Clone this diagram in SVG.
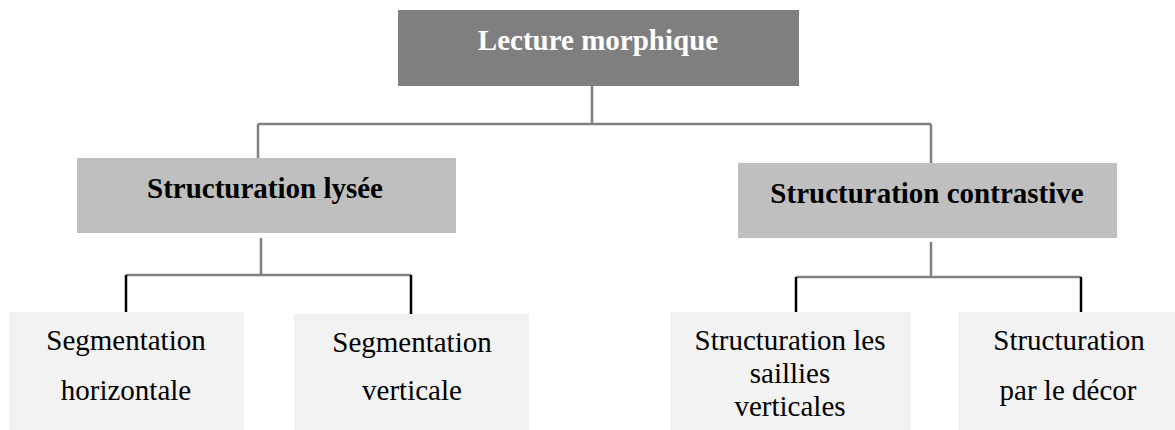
<svg xmlns="http://www.w3.org/2000/svg" width="1175" height="430" viewBox="0 0 1175 430">
  <style>
    .bg { fill: #ffffff; }
    .root { fill: #7f7f7f; }
    .branch { fill: #bfbfbf; }
    .leaf { fill: #f2f2f2; }
    text { font-family: "Liberation Serif", "Times New Roman", serif; font-size: 29px; text-anchor: middle; }
    .title { font-weight: bold; fill: #ffffff; }
    .head { font-weight: bold; fill: #000000; }
    .item { fill: #000000; }
    .link { stroke: #808080; stroke-width: 2.5; fill: none; }
    .drop { stroke: #000000; stroke-width: 2.5; fill: none; }
  </style>
  <rect class="bg" x="0" y="0" width="1175" height="430"/>

  <!-- connectors -->
  <g id="connectors">
    <!-- root to the two branches -->
    <path class="link" d="M592 86 V124 M258 124 H931 M258 124 V158 M931 124 V163"/>
    <!-- left branch to its leaves -->
    <path class="link" d="M261 238 V275 M126 275 H411"/>
    <path class="drop" d="M126 275 V313 M411 275 V314"/>
    <!-- right branch to its leaves -->
    <path class="link" d="M931 242 V277 M796 277 H1081"/>
    <path class="drop" d="M796 277 V312 M1081 277 V312"/>
  </g>

  <g id="lecture-morphique">
    <rect class="root" x="398" y="10" width="401" height="76"/>
    <text class="title" x="598" y="50">Lecture morphique</text>
  </g>

  <g id="structuration-lysee">
    <rect class="branch" x="77" y="158" width="379" height="75"/>
    <text class="head" x="265" y="198">Structuration lysée</text>
  </g>

  <g id="structuration-contrastive">
    <rect class="branch" x="738" y="163" width="379" height="75"/>
    <text class="head" x="927" y="203">Structuration contrastive</text>
  </g>

  <g id="segmentation-horizontale">
    <rect class="leaf" x="9" y="312" width="235" height="118"/>
    <text class="item" x="126" y="350">Segmentation</text>
    <text class="item" x="126" y="400">horizontale</text>
  </g>

  <g id="segmentation-verticale">
    <rect class="leaf" x="294" y="314" width="235" height="116"/>
    <text class="item" x="412" y="352">Segmentation</text>
    <text class="item" x="412" y="400">verticale</text>
  </g>

  <g id="structuration-saillies">
    <rect class="leaf" x="670" y="312" width="241" height="118"/>
    <text class="item" x="790" y="350">Structuration les</text>
    <text class="item" x="790" y="383">saillies</text>
    <text class="item" x="790" y="416">verticales</text>
  </g>

  <g id="structuration-decor">
    <rect class="leaf" x="958" y="312" width="217" height="118"/>
    <text class="item" x="1069" y="350">Structuration</text>
    <text class="item" x="1068" y="400">par le décor</text>
  </g>
</svg>
